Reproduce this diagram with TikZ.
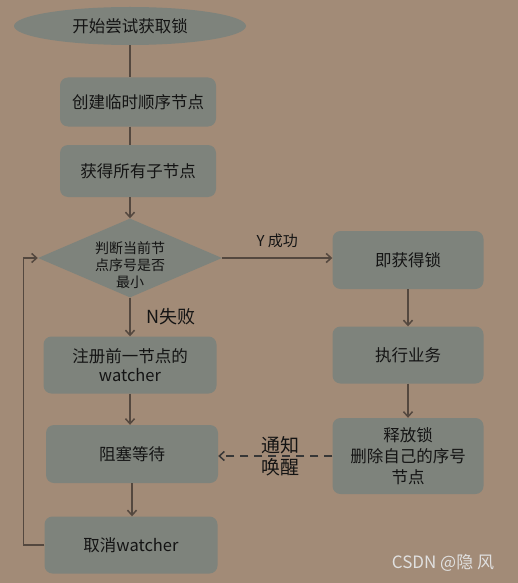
\documentclass[tikz,border=0pt]{standalone}
\usepackage{fontspec}
\setmainfont{Noto Sans CJK SC}
\usetikzlibrary{arrows.meta, shapes.geometric}
\definecolor{bgbrown}{HTML}{A28B77}
\definecolor{boxgrey}{HTML}{7E837C}
\definecolor{linebrown}{HTML}{54483F}
\definecolor{inkdark}{HTML}{141414}

\begin{document}
\begin{tikzpicture}[x=1pt, y=-1pt,
    box/.style={fill=boxgrey, rounded corners=8pt, inner sep=0pt, align=center, text=inkdark,
        minimum width=173pt, minimum height=57pt, font=\fontsize{16.5}{19}\selectfont},
    line/.style={draw=linebrown, line width=1.5pt},
    flow/.style={line, -{Straight Barb[length=5pt, width=9pt, line width=1.5pt]}},
    tag/.style={text=inkdark, align=center}]
    % --- BACKGROUND ---
    \fill[bgbrown] (0,0) rectangle (518,583);

    % --- LEFT COLUMN ---
    \node[ellipse, fill=boxgrey, minimum width=232pt, minimum height=38pt, inner sep=0pt,
        text=inkdark, font=\fontsize{16.5}{19}\selectfont] (start) at (130,26) {开始尝试获取锁};
    \node[box, minimum width=156pt, minimum height=49pt] (create) at (138,102) {创建临时顺序节点};
    \node[box, minimum width=156pt, minimum height=52pt] (children) at (138,171) {获得所有子节点};
    \node[diamond, fill=boxgrey, minimum width=184pt, minimum height=79pt, inner sep=0pt] (check) at (130,258) {};
    \node[tag, font=\fontsize{14}{17}\selectfont] (checktext) at (130,265) {判断当前节\\点序号是否\\最小};
    \node[box] (register) at (130,365) {注册前一节点的\\watcher};
    \node[box, minimum width=172pt, minimum height=58pt] (block) at (132,454) {阻塞等待};
    \node[box] (cancel) at (131,545) {取消watcher};

    % --- RIGHT COLUMN ---
    \node[box, minimum width=151pt, minimum height=58pt] (acquire) at (408,260) {即获得锁};
    \node[box, minimum width=151pt, minimum height=57pt] (work) at (408,355) {执行业务};
    \node[box, minimum width=151pt, minimum height=76pt, font=\fontsize{16.5}{21}\selectfont] (release) at (408,456) {释放锁\\删除自己的序号\\节点};

    % --- CONNECTORS ---
    \draw[line] (start.south) -- (start.south |- create.north);
    \draw[line] (create.south -| start.south) -- (children.north -| start.south);
    \draw[flow] (children.south -| check.north) -- (check.north);
    \draw[flow] (check.east) -- (check.east -| acquire.west)
        node[midway, above=6pt, tag, font=\fontsize{15}{17}\selectfont] (yes) {Y 成功};
    \draw[flow] (check.south) -- (check.south |- register.north)
        node[midway, right=12pt, tag, font=\fontsize{18}{20}\selectfont] (no) {N失败};
    \draw[flow] (register.south) -- (register.south |- block.north);
    \draw[flow] (block.south) -- (block.south |- cancel.north);
    \draw[flow] (cancel.west) -- ++(-21,0) |- (check.west);
    \draw[flow] (acquire) -- (work);
    \draw[flow] (work) -- (release);
    \draw[flow, draw=inkdark!85, line width=1.8pt, dash pattern=on 8pt off 6pt] (release.west) -- (release.west -| block.east)
        node[pos=0.45, tag, font=\fontsize{19}{22}\selectfont] (wake) {通知\\唤醒};

    % --- WATERMARK ---
    \node[text=white!88!black, font=\fontsize{17}{19}\selectfont] (mark) at (443,563) {CSDN @隐 风};
\end{tikzpicture}
\end{document}
